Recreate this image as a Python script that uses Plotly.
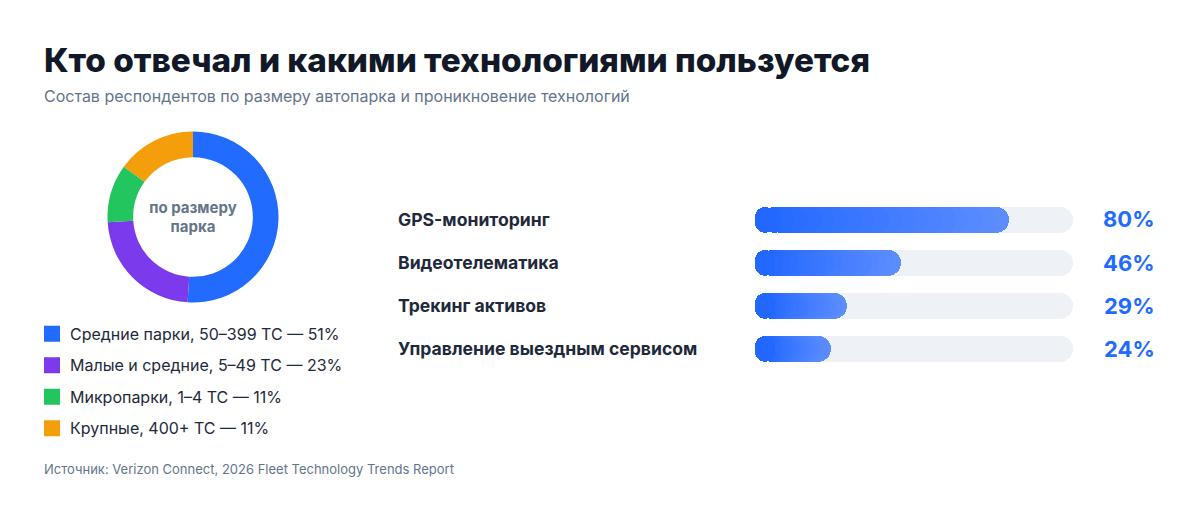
import plotly.graph_objects as go

# ---------------- data ----------------
fleet_labels = ["Средние парки, 50–399 ТС", "Малые и средние, 5–49 ТС",
                "Микропарки, 1–4 ТС", "Крупные, 400+ ТС"]
fleet_pct_text = [51, 23, 11, 11]          # percentages printed in the legend
fleet_slice_values = [51, 23, 11, 15]      # slice sizes as drawn in the donut
fleet_colors = ["#226BFF", "#7B3AEC", "#22C55E", "#F59E0B"]

tech_labels = ["GPS-мониторинг", "Видеотелематика", "Трекинг активов",
               "Управление выездным сервисом"]
tech_values = [80, 46, 29, 24]

title_text = "Кто отвечал и какими технологиями пользуется"
subtitle_text = "Состав респондентов по размеру автопарка и проникновение технологий"
source_text = "Источник: Verizon Connect, 2026 Fleet Technology Trends Report"
donut_center_text = "по размеру<br>парка"

# ---------------- style ----------------
W, H = 1200, 531
FONT = "Inter"
DARK = "#111827"
TEXT = "#1E293B"
MUTED = "#64748B"
TRACK = "#EEF1F6"
PCT_COLOR = "#226BFF"
GRAD_START = (34, 104, 255)
GRAD_END = (94, 142, 255)
N_LAYERS = 18

BAR_X0, BAR_X1 = 755, 1073          # px extent of the track
BAR_PX = 26                          # bar thickness in px
CAP = (BAR_PX / 2) / (BAR_X1 - BAR_X0) * 100   # radius in axis units


def py(px):
    return 1 - px / H


def mix(t):
    c = [round(a + (b - a) * t) for a, b in zip(GRAD_START, GRAD_END)]
    return f"rgb({c[0]},{c[1]},{c[2]})"


fig = go.Figure()

# ---------------- donut ----------------
cx, cy, r = 193, 217, 85.5
fig.add_trace(go.Pie(
    values=fleet_slice_values, labels=fleet_labels,
    marker=dict(colors=fleet_colors, line=dict(width=0)),
    hole=0.7, sort=False, direction="clockwise", rotation=0,
    textinfo="none", hoverinfo="skip", showlegend=False,
    domain=dict(x=[(cx - r) / W, (cx + r) / W], y=[py(cy + r), py(cy - r)]),
    title=dict(text=donut_center_text, position="middle center",
               font=dict(family=FONT, size=15, color=MUTED, weight=700)),
))

# ---------------- bars ----------------
bar_kw = dict(orientation="h", y=tech_labels, width=0.6, hoverinfo="skip",
              showlegend=False, xaxis="x", yaxis="y")
# track body + left cap
fig.add_trace(go.Bar(x=[100 - CAP] * len(tech_labels), base=[CAP] * len(tech_labels),
                     marker=dict(color=TRACK, line=dict(width=0), cornerradius="50%"), **bar_kw))
fig.add_trace(go.Bar(x=[-1.5 * CAP] * len(tech_labels), base=[1.5 * CAP] * len(tech_labels),
                     marker=dict(color=TRACK, line=dict(width=0), cornerradius="50%"), **bar_kw))
# gradient layers (longest / lightest first)
for k in range(N_LAYERS, 0, -1):
    t = (k - 0.5) / N_LAYERS
    fig.add_trace(go.Bar(
        x=[(v - CAP) * k / N_LAYERS for v in tech_values],
        base=[CAP] * len(tech_values),
        marker=dict(color=mix(t), line=dict(width=0), cornerradius="50%"), **bar_kw))
# value left cap
fig.add_trace(go.Bar(x=[-1.5 * CAP] * len(tech_values), base=[1.5 * CAP] * len(tech_values),
                     marker=dict(color=mix(0), line=dict(width=0), cornerradius="50%"), **bar_kw))

# ---------------- custom legend ----------------
fig.add_trace(go.Scatter(
    x=[0] * len(fleet_labels), y=fleet_labels, mode="markers", cliponaxis=False,
    marker=dict(symbol="square", size=14, color=fleet_colors,
                line=dict(width=2, color=fleet_colors)),
    hoverinfo="skip", showlegend=False, xaxis="x2", yaxis="y2"))

annotations = []
for lab, p in zip(fleet_labels, fleet_pct_text):
    annotations.append(dict(
        x=0, y=lab, xref="x2", yref="y2", xanchor="left", yanchor="middle",
        xshift=16, text=f"{lab} — {p}%", showarrow=False,
        font=dict(family=FONT, size=16, color=TEXT)))

for lab, v in zip(tech_labels, tech_values):
    annotations.append(dict(
        x=396 / W, y=lab, xref="paper", yref="y", xanchor="left", yanchor="middle",
        text=lab, showarrow=False, font=dict(family=FONT, size=17.6, color=TEXT, weight=700)))
    annotations.append(dict(
        x=1157 / W, y=lab, xref="paper", yref="y", xanchor="right", yanchor="middle",
        text=f"{v}%", showarrow=False, font=dict(family=FONT, size=22, color=PCT_COLOR, weight=700)))

annotations += [
    dict(x=42 / W, y=py(60), xref="paper", yref="paper", xanchor="left", yanchor="middle",
         text=title_text, showarrow=False,
         font=dict(family=FONT, size=33.3, color=DARK, weight=800)),
    dict(x=42 / W, y=py(96), xref="paper", yref="paper", xanchor="left", yanchor="middle",
         text=subtitle_text, showarrow=False, font=dict(family=FONT, size=16, color=MUTED)),
    dict(x=42 / W, y=py(469), xref="paper", yref="paper", xanchor="left", yanchor="middle",
         text=source_text, showarrow=False, font=dict(family=FONT, size=13, color=MUTED)),
]

row0, row3 = 219.5, 349
step = (row3 - row0) / 3
lrow0, lrow3 = 333.7, 428.3
lstep = (lrow3 - lrow0) / 3

hidden = dict(visible=False, showgrid=False, zeroline=False, fixedrange=True)
fig.update_layout(
    width=W, height=H, margin=dict(l=0, r=0, t=0, b=0),
    paper_bgcolor="white", plot_bgcolor="white",
    barmode="overlay", bargap=0, showlegend=False,
    font=dict(family=FONT),
    xaxis=dict(domain=[BAR_X0 / W, BAR_X1 / W], range=[0, 100], **hidden),
    yaxis=dict(domain=[py(row3 + step / 2), py(row0 - step / 2)],
               range=[len(tech_labels) - 0.5, -0.5], type="category",
               categoryorder="array", categoryarray=tech_labels, **hidden),
    xaxis2=dict(domain=[52 / W, 0.3], range=[0, 1], anchor="y2", **hidden),
    yaxis2=dict(domain=[py(lrow3 + lstep / 2), py(lrow0 - lstep / 2)],
                range=[len(fleet_labels) - 0.5, -0.5], type="category",
                categoryorder="array", categoryarray=fleet_labels, anchor="x2", **hidden),
    annotations=annotations,
)

fig.write_html("out.html", config={"displayModeBar": False},
               post_script="document.body.style.margin='0';")
